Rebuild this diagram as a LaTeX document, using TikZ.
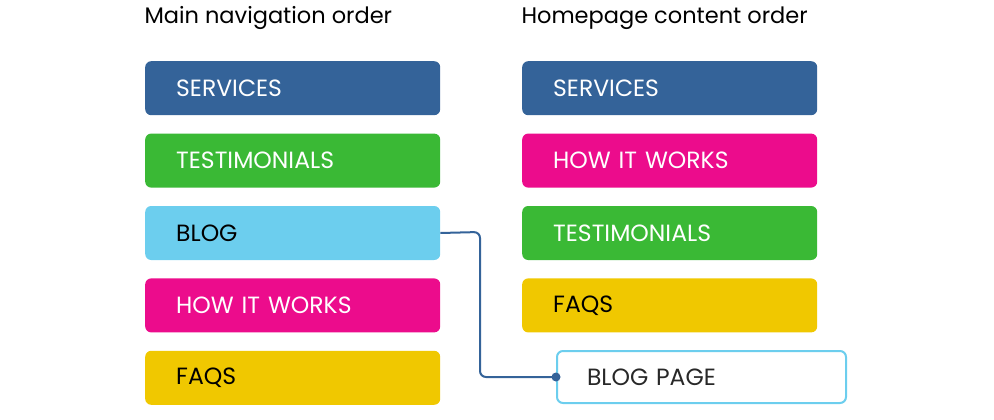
\documentclass[tikz,border=0pt]{standalone}
\usepackage{fontspec}
\setmainfont{Poppins}
\usepackage{tikz}
\usetikzlibrary{positioning}
\definecolor{navblue}{RGB}{52, 99, 153}
\definecolor{navgreen}{RGB}{58, 185, 53}
\definecolor{navsky}{RGB}{108, 206, 238}
\definecolor{navpink}{RGB}{236, 12, 140}
\definecolor{navyellow}{RGB}{240, 200, 0}
\definecolor{navtext}{RGB}{40, 40, 40}

\tikzset{
  item/.style={rounded corners=6pt, minimum height=54pt, text width=233pt,
    inner xsep=31pt, inner ysep=0pt, align=left,
    font=\fontsize{23.5}{27}\selectfont},
  heading/.style={anchor=west, font=\fontsize{22.5}{26}\selectfont, text=black}
}

\begin{document}
\begin{tikzpicture}[x=1pt, y=-1pt]
  \useasboundingbox (0,0) rectangle (994,420);
  % column titles
  \node[heading] (navtitle) at (141,18) {Main navigation order};
  \node[heading] (hometitle) at (518,18) {Homepage content order};
  % main navigation
  \node[item, fill=navblue, text=white, anchor=north west] (navserv) at (145,61) {SERVICES};
  \node[item, fill=navgreen, text=white, below=18pt of navserv] (navtest) {TESTIMONIALS};
  \node[item, fill=navsky, text=black, below=18pt of navtest] (navblog) {BLOG};
  \node[item, fill=navpink, text=white, below=18pt of navblog] (navhow) {HOW IT WORKS};
  \node[item, fill=navyellow, text=black, below=18pt of navhow] (navfaq) {FAQS};
  % homepage content
  \node[item, fill=navblue, text=white, anchor=north west] (homeserv) at (522,61) {SERVICES};
  \node[item, fill=navpink, text=white, below=18pt of homeserv] (homehow) {HOW IT WORKS};
  \node[item, fill=navgreen, text=white, below=18pt of homehow] (hometest) {TESTIMONIALS};
  \node[item, fill=navyellow, text=black, below=18pt of hometest] (homefaq) {FAQS};
  \node[item, draw=navsky, line width=2pt, fill=white, text=navtext, minimum height=52pt,
    text width=229pt, inner xsep=30pt, anchor=north west] (blogpage) at (556,350) {BLOG PAGE};
  % link
  \draw[navblue, line width=2pt, rounded corners=6pt] (navblog.east) -- (480,232) |- (blogpage.west);
  \fill[navblue] (blogpage.west) circle (4.5pt);
\end{tikzpicture}
\end{document}
